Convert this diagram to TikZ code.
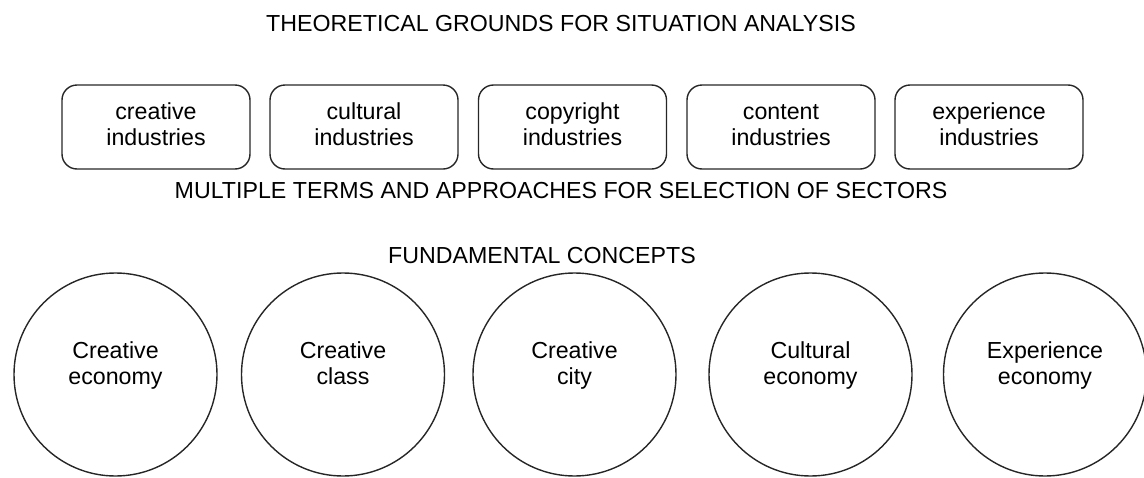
\documentclass[tikz,border=0pt]{standalone}
\usepackage{fontspec}
\setmainfont{Liberation Sans}
\begin{document}
\begin{tikzpicture}[x=1pt,y=-1pt,
  txt/.style={font=\fontsize{23.2}{26.5}\selectfont, align=center, inner sep=0pt},
  indbox/.style={draw=black!85, line width=1.4pt, rounded corners=15pt, minimum width=188pt, minimum height=84pt, inner sep=0pt, txt},
  concept/.style={draw=black!85, line width=1.4pt, circle, minimum size=203pt, inner sep=0pt},
  heading/.style={font=\fontsize{23.2}{26.5}\selectfont, inner sep=0pt}
]
\useasboundingbox (0,0) rectangle (1144,477);
\node[heading] (title) at (561,24) {THEORETICAL GROUNDS FOR SITUATION ANALYSIS};
\node[indbox] (b1) at (156,127) {creative\strut\\industries\strut};
\node[indbox] (b2) at (364,127) {cultural\strut\\industries\strut};
\node[indbox] (b3) at (572.5,127) {copyright\strut\\industries\strut};
\node[indbox] (b4) at (781,127) {content\strut\\industries\strut};
\node[indbox] (b5) at (989,127) {experience\strut\\industries\strut};
\node[heading] (terms) at (561,191) {MULTIPLE TERMS AND APPROACHES FOR SELECTION OF SECTORS};
\node[heading] (fund) at (542,256) {FUNDAMENTAL CONCEPTS};
\node[concept] (c1) at (115.5,374.5) {};
\node[concept] (c2) at (343,374.5) {};
\node[concept] (c3) at (574.5,374.5) {};
\node[concept] (c4) at (810.5,374.5) {};
\node[concept] (c5) at (1045,374.5) {};
\node[txt] (t1) at ([yshift=8.5pt]c1.center) {Creative\strut\\economy\strut};
\node[txt] (t2) at ([yshift=8.5pt]c2.center) {Creative\strut\\class\strut};
\node[txt] (t3) at ([yshift=8.5pt]c3.center) {Creative\strut\\city\strut};
\node[txt] (t4) at ([yshift=8.5pt]c4.center) {Cultural\strut\\economy\strut};
\node[txt] (t5) at ([yshift=8.5pt]c5.center) {Experience\strut\\economy\strut};
\end{tikzpicture}
\end{document}
